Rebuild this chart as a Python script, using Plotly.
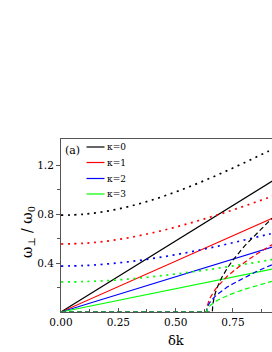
import plotly.graph_objects as go

# ---- data ----
kappas = ["κ=0", "κ=1", "κ=2", "κ=3"]
colors = ["#000000", "#ff0000", "#0000ff", "#00ff00"]

# solid lines (linear from origin)
k_solid = [0.0, 1.0]
solid_k0 = [0.0, 1.16]
solid_k1 = [0.0, 0.83]
solid_k2 = [0.0, 0.575]
solid_k3 = [0.0, 0.38]

# dotted curves
k_dot = [0.0, 0.1, 0.2, 0.3, 0.4, 0.5, 0.6, 0.7, 0.8, 0.9, 1.0]
dot_k0 = [0.790, 0.798, 0.823, 0.863, 0.916, 0.980, 1.053, 1.133, 1.219, 1.309, 1.403]
dot_k1 = [0.555, 0.561, 0.579, 0.608, 0.647, 0.693, 0.746, 0.803, 0.865, 0.931, 0.998]
dot_k2 = [0.375, 0.379, 0.392, 0.411, 0.437, 0.468, 0.504, 0.544, 0.588, 0.632, 0.676]
dot_k3 = [0.245, 0.248, 0.256, 0.270, 0.288, 0.310, 0.335, 0.362, 0.390, 0.421, 0.452]

# dashed curves (zero below a threshold, then rising)
k_dash0 = [0.0, 0.66, 0.662, 0.665, 0.67, 0.68, 0.69, 0.70, 0.725, 0.75, 0.80, 0.85, 0.90, 0.95, 1.0]
dash_k0 = [0.0, 0.0, 0.061, 0.097, 0.137, 0.195, 0.240, 0.278, 0.357, 0.424, 0.538, 0.637, 0.728, 0.813, 0.894]
k_dash = [0.0, 0.635, 0.637, 0.64, 0.645, 0.65, 0.66, 0.67, 0.685, 0.70, 0.725, 0.75, 0.80, 0.85, 0.90, 0.95, 1.0]
dash_k1 = [0.0, 0.0, 0.042, 0.066, 0.093, 0.115, 0.149, 0.177, 0.213, 0.245, 0.292, 0.331, 0.404, 0.469, 0.529, 0.586, 0.641]
dash_k2 = [0.0, 0.0, 0.029, 0.046, 0.065, 0.081, 0.104, 0.124, 0.149, 0.171, 0.204, 0.231, 0.282, 0.328, 0.370, 0.410, 0.448]
dash_k3 = [0.0, 0.0, 0.019, 0.030, 0.043, 0.053, 0.068, 0.081, 0.098, 0.112, 0.134, 0.152, 0.185, 0.215, 0.242, 0.268, 0.294]

x_ticks = [0.0, 0.25, 0.5, 0.75]
x_ticktext = ["0.00", "0.25", "0.50", "0.75"]
y_ticks = [0.4, 0.8, 1.2]
y_ticktext = ["0.4", "0.8", "1.2"]

FONT = "DejaVu Serif"

fig = go.Figure()

solids = [solid_k0, solid_k1, solid_k2, solid_k3]
dots = [dot_k0, dot_k1, dot_k2, dot_k3]
dashes = [(k_dash0, dash_k0), (k_dash, dash_k1), (k_dash, dash_k2), (k_dash, dash_k3)]

for i in range(4):
    fig.add_trace(go.Scatter(x=k_solid, y=solids[i], mode="lines",
                             line=dict(color=colors[i], width=1.1),
                             name=kappas[i], showlegend=False))
for i in range(4):
    fig.add_trace(go.Scatter(x=k_dot, y=dots[i], mode="lines", line_shape="spline",
                             line=dict(color=colors[i], width=1.7, dash="2px,4.6px"),
                             showlegend=False))
for i in range(4):
    kx, vy = dashes[i]
    fig.add_trace(go.Scatter(x=kx, y=vy, mode="lines",
                             line=dict(color=colors[i], width=1.2, dash="5px,3px"),
                             showlegend=False))

# manual legend (paper coordinates)
L, R, B, T = 61, 272, 312, 139
W, H = R - L, B - T
def px(x):
    return (x - L) / W
def py(y):
    return (B - y) / H

rows = [147, 162.5, 178.5, 194]
for i in range(4):
    fig.add_shape(type="line", xref="paper", yref="paper",
                  x0=px(86.5), x1=px(104.5), y0=py(rows[i]), y1=py(rows[i]),
                  line=dict(color=colors[i], width=1.2))
    fig.add_annotation(xref="paper", yref="paper", x=px(105), y=py(rows[i]),
                       text=kappas[i], showarrow=False, xanchor="left", yanchor="middle",
                       font=dict(family=FONT, size=9, color="black"))

fig.add_annotation(xref="paper", yref="paper", x=px(63), y=py(150),
                   text="(a)", showarrow=False, xanchor="left", yanchor="middle",
                   font=dict(family=FONT, size=11, color="black"))

# axis titles
fig.add_annotation(xref="x", yref="paper", x=0.5, y=py(340),
                   text="δk", showarrow=False, xanchor="center", yanchor="middle",
                   font=dict(family=FONT, size=13, color="black"))
fig.add_annotation(xref="paper", yref="paper", x=px(28), y=py(232),
                   text="ω<sub>⊥</sub> / ω<sub>0</sub>", showarrow=False, textangle=-90,
                   xanchor="center", yanchor="middle",
                   font=dict(family=FONT, size=14, color="black"))

fig.update_layout(
    width=272, height=352,
    margin=dict(l=L, r=0, t=T, b=352 - B, pad=0),
    paper_bgcolor="white", plot_bgcolor="white",
    font=dict(family=FONT, size=10.5, color="black"),
    showlegend=False,
    xaxis=dict(range=[0, (R - L) / 229.3], tickvals=x_ticks, ticktext=x_ticktext,
               ticks="inside", ticklen=4, tickcolor="#555", showgrid=False, zeroline=False,
               showline=True, linecolor="#555", linewidth=1, mirror=True,
               minor=dict(tickvals=[0.125, 0.375, 0.625, 0.875], ticks="inside",
                          ticklen=3, tickcolor="#555"),
               tickfont=dict(family=FONT, size=10.5, color="black")),
    yaxis=dict(range=[0, (B - T) / 122.5], tickvals=y_ticks, ticktext=y_ticktext,
               ticks="outside", ticklen=4, tickcolor="#555", showgrid=False, zeroline=False,
               showline=True, linecolor="#555", linewidth=1,
               minor=dict(tickvals=[0.2, 0.6, 1.0], ticks="outside", ticklen=3,
                          tickcolor="#555"),
               tickfont=dict(family=FONT, size=10.5, color="black")),
)

fig.write_html("out.html", config={"displayModeBar": False},
               post_script="document.body.style.margin='0px';")
